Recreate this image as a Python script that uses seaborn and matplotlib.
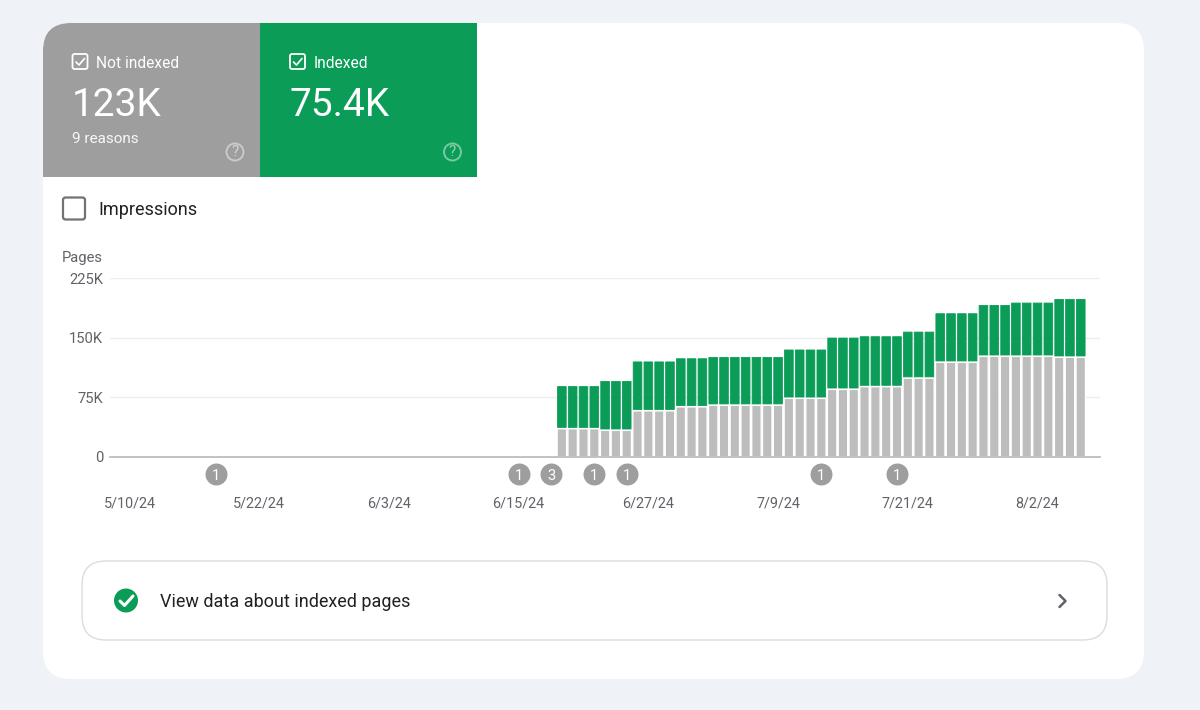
# pages indexing card
import pandas as pd
import matplotlib.pyplot as plt
from matplotlib.patches import FancyBboxPatch, Rectangle, Circle
import seaborn as sns

# === Data ===
first_day = pd.Timestamp("2024-05-10")
first_bar_day = pd.Timestamp("2024-06-19")
not_indexed = [35.5, 35.5, 35.5, 35.5, 33.5, 33.5, 33.5, 58, 58, 58, 58, 63, 63, 63,
               65, 65, 65, 65, 65, 65, 65, 73.7, 73.7, 73.7, 73.7, 85, 85, 85,
               88.4, 88.4, 88.4, 88.4, 99, 99, 99, 119, 119, 119, 119,
               126.5, 126.5, 126.5, 126.5, 126.5, 126.5, 126.5, 125.3, 125.3, 125.3]
indexed = [51.3, 51.3, 51.3, 51.3, 59.8, 59.8, 59.8, 59.8, 59.8, 59.8, 59.8, 58.8, 58.8, 58.8,
           58.5, 58.5, 58.5, 58.5, 58.5, 58.5, 58.5, 59.1, 59.1, 59.1, 59.1, 62.8, 62.8, 62.8,
           61.1, 61.1, 61.1, 61.1, 56.3, 56.3, 56.3, 59.4, 59.4, 59.4, 59.4,
           62.3, 62.3, 62.3, 65.3, 65.3, 65.3, 65.3, 71.1, 71.1, 71.1]
y_ticks = [0, 75, 150, 225]
y_labels = ["0", "75K", "150K", "225K"]
x_tick_days = ["2024-05-10", "2024-05-22", "2024-06-03", "2024-06-15",
               "2024-06-27", "2024-07-09", "2024-07-21", "2024-08-02"]
x_labels = ["5/10/24", "5/22/24", "6/3/24", "6/15/24", "6/27/24", "7/9/24", "7/21/24", "8/2/24"]
note_days = ["2024-05-18", "2024-06-15", "2024-06-18", "2024-06-22",
             "2024-06-25", "2024-07-13", "2024-07-20"]
note_counts = ["1", "1", "3", "1", "1", "1", "1"]

GREEN = "#0b9d58"
TILE_GRAY = "#9e9e9e"
BAR_GRAY = "#bdbdbd"
W, H = 1200, 710


def day_number(day):
    return (pd.Timestamp(day) - first_day).days


df = pd.DataFrame({"not_indexed": not_indexed, "indexed": indexed})
df["day"] = [day_number(first_bar_day) + i for i in range(len(df))]

sns.set_theme(style="white")
plt.rcParams["font.family"] = ["Roboto", "DejaVu Sans"]

fig = plt.figure(figsize=(12, 7.1), dpi=100, facecolor="#eff3f8")

# === Card, tiles and the rest of the page, in pixel coordinates ===
bg = fig.add_axes([0, 0, 1, 1])
bg.set_xlim(0, W)
bg.set_ylim(H, 0)
bg.axis("off")

card = FancyBboxPatch((43, 23), 1101, 656, boxstyle="round,pad=0,rounding_size=28",
                      fc="white", ec="none")
bg.add_patch(card)
for x0, col in [(43, TILE_GRAY), (260, GREEN)]:
    tile = Rectangle((x0, 23), 217, 154, fc=col, ec="none")
    bg.add_patch(tile)
    tile.set_clip_path(card)


def checkbox(x, y):
    bg.add_patch(FancyBboxPatch((x, y), 15, 15, boxstyle="round,pad=0,rounding_size=2",
                                fc="none", ec="white", lw=1.3))
    bg.plot([x + 3.5, x + 6.5, x + 12], [y + 8, y + 11, y + 4.5], color="white", lw=1.2)


def help_icon(x, y):
    bg.add_patch(Circle((x, y), 8.5, fc="none", ec="white", lw=1.4, alpha=0.45))
    bg.text(x, y + 0.5, "?", color="white", alpha=0.55, fontsize=11, ha="center", va="center")


checkbox(72.5, 54)
checkbox(290, 54)
bg.text(96, 63, "Not indexed", color="white", fontsize=11.2, va="center")
bg.text(313.5, 63, "Indexed", color="white", fontsize=11.2, va="center")
bg.text(72, 106, "123K", color="white", fontsize=28, va="center")
bg.text(289.5, 106, "75.4K", color="white", fontsize=28, va="center")
bg.text(72, 139, "9 reasons", color="white", fontsize=11, va="center", alpha=0.92)
help_icon(235, 152)
help_icon(452.5, 152)

bg.add_patch(FancyBboxPatch((63, 197.5), 22, 22, boxstyle="round,pad=0,rounding_size=2.5",
                            fc="white", ec="#6f7276", lw=1.6))
bg.text(98.5, 210, "Impressions", color="#202124", fontsize=13, va="center")
bg.text(62, 258, "Pages", color="#5f6368", fontsize=10.6, va="center")

bg.add_patch(FancyBboxPatch((82, 561), 1025, 79, boxstyle="round,pad=0,rounding_size=24",
                            fc="white", ec="#dadce0", lw=1))
bg.add_patch(Circle((126, 600.5), 12, fc=GREEN, ec="none"))
bg.plot([120, 124.5, 133], [601, 605.5, 596], color="white", lw=2.2)
bg.text(160, 602, "View data about indexed pages", color="#202124", fontsize=13, va="center")
bg.plot([1059.5, 1065.5, 1059.5], [595, 601, 607], color="#5f6368", lw=1.8)

# === Chart ===
ax = fig.add_axes([110 / W, 1 - 457 / H, 990 / W, 179 / H], facecolor="none")
sns.barplot(data=df, x="day", y="not_indexed", native_scale=True, color=BAR_GRAY,
            width=0.88, saturation=1, ax=ax, zorder=3)
n_gray = len(ax.patches)
sns.barplot(data=df, x="day", y="indexed", native_scale=True, color=GREEN,
            bottom=[v + 1.7 for v in not_indexed], width=0.8, saturation=1, ax=ax, zorder=3)
for bar in ax.patches[:n_gray]:
    bar.set_snap(False)
# green bars get slightly rounded tops from a round-joined edge
for bar in ax.patches[n_gray:]:
    bar.set(edgecolor=GREEN, linewidth=0.6, joinstyle="round", snap=False)

notes = pd.DataFrame({"day": [day_number(d) for d in note_days], "level": -21.4})
sns.scatterplot(data=notes, x="day", y="level", s=250, color=TILE_GRAY, linewidth=0,
                clip_on=False, ax=ax, zorder=4)
for day, count in zip(notes["day"], note_counts):
    ax.text(day, -21.4, count, color="white", fontsize=10.5, ha="center", va="center_baseline",
            zorder=5, clip_on=False)

ax.set_xlim(-1.80, 89.78)
ax.set_ylim(0, 225)
ax.set_xticks([day_number(d) for d in x_tick_days], x_labels)
ax.set_yticks(y_ticks, y_labels)
ax.set_xlabel("")
ax.set_ylabel("")
ax.tick_params(axis="x", length=0, pad=28.4, labelsize=10.4, labelcolor="#5f6368")
ax.tick_params(axis="y", length=0, pad=5, labelsize=10.6, labelcolor="#5f6368")
ax.grid(axis="y", color="#eceef0", lw=1)
ax.set_axisbelow(True)
sns.despine(ax=ax, left=True, top=True, right=True)
ax.spines["bottom"].set_color(BAR_GRAY)
ax.spines["bottom"].set_linewidth(1.3)
ax.spines["bottom"].set_zorder(6)

fig.savefig("out.png", dpi=100, facecolor=fig.get_facecolor())
